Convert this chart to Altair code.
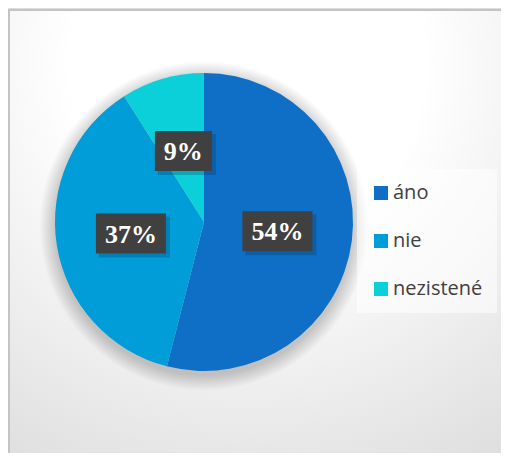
import altair as alt
import pandas as pd
import math

categories = ["áno", "nie", "nezistené"]
values = [54, 37, 9]
labels = ["54%", "37%", "9%"]
colors = ["#0F6FC6", "#009DD9", "#0BD0D9"]

df = pd.DataFrame({
    "category": categories,
    "value": values,
    "label": labels,
    "order": list(range(len(categories))),
})

W, H = 493, 445
CX, CY, R = 196, 214, 149
RL = 74

one = alt.Data(values=[{}])

background = alt.Chart(one).mark_rect(
    fill=alt.Gradient(
        gradient="radial",
        stops=[alt.GradientStop(color="#ffffff", offset=0.0),
               alt.GradientStop(color="#ffffff", offset=0.35),
               alt.GradientStop(color="#dadada", offset=1.0)],
        x1=0.45, y1=0.15, r1=0.0, x2=0.45, y2=0.15, r2=0.95,
    ),
    stroke="#c4c4c4", strokeWidth=2,
).encode(x=alt.value(1), x2=alt.value(530), y=alt.value(2), y2=alt.value(480))

shadows = []
for i in range(12):
    shadows.append(
        alt.Chart(one).mark_arc(radius=R + 1 + i * 1.3, theta=0, theta2=2 * math.pi,
                                fill="black", opacity=0.014)
        .encode(x=alt.value(CX), y=alt.value(CY + 4))
    )

pie = alt.Chart(df).mark_arc(radius=R, stroke=None).encode(
    theta=alt.Theta("value:Q", stack=True),
    color=alt.Color("category:N",
                    scale=alt.Scale(domain=categories, range=colors),
                    legend=alt.Legend(title=None, orient="none",
                                      legendX=349, legendY=161,
                                      padding=14,
                                      fillColor="rgba(255,255,255,0.55)",
                                      symbolType="square", symbolSize=196,
                                      symbolStrokeWidth=0,
                                      labelFont="Open Sans", labelFontSize=20,
                                      labelColor="#404040", labelOffset=2,
                                      rowPadding=28)),
    order=alt.Order("order:Q"),
    x=alt.value(CX), y=alt.value(CY),
)

pos = (
    alt.Chart(df)
    .transform_window(cum="sum(value)", frame=[None, 0], sort=[alt.SortField("order")])
    .transform_joinaggregate(total="sum(value)")
    .transform_calculate(mid="(datum.cum - datum.value/2)/datum.total*2*PI")
    .transform_calculate(
        xc=f"{CX} + {RL}*sin(datum.mid)",
        yc=f"{CY} - {RL}*cos(datum.mid)",
        w="18 + 13*(length(datum.label)+1)",
    )
    .transform_calculate(
        bx1="datum.xc - datum.w/2", bx2="datum.xc + datum.w/2",
        by1="datum.yc - 20", by2="datum.yc + 20",
        sx1="datum.xc - datum.w/2 + 3", sx2="datum.xc + datum.w/2 + 4",
        sy1="datum.yc - 17", sy2="datum.yc + 24",
    )
)

box_shadow = pos.mark_rect(fill="#003050", opacity=0.25).encode(
    x=alt.X("sx1:Q", scale=None), x2="sx2:Q",
    y=alt.Y("sy1:Q", scale=None), y2="sy2:Q",
)
boxes = pos.mark_rect(fill="#404040").encode(
    x=alt.X("bx1:Q", scale=None), x2="bx2:Q",
    y=alt.Y("by1:Q", scale=None), y2="by2:Q",
)
texts = pos.mark_text(font="Liberation Serif", fontWeight="bold", fontSize=26,
                      color="white", baseline="middle", align="center", dy=1).encode(
    x=alt.X("xc:Q", scale=None), y=alt.Y("yc:Q", scale=None), text="label:N",
)

chart = alt.layer(background, *shadows, pie, box_shadow, boxes, texts).properties(
    width=W, height=H, padding=0, autosize=alt.AutoSizeParams(type="none"),
).configure_view(stroke=None).configure(background="white")

chart.save("out.html", embed_options={"renderer": "svg", "actions": False})
